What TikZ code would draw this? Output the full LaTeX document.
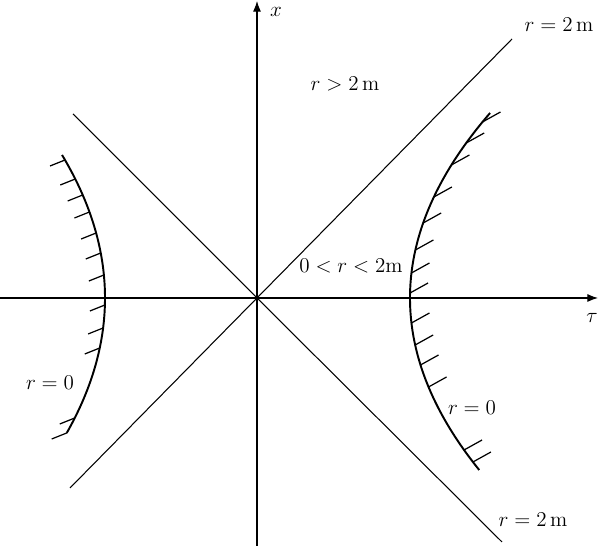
\documentclass[tikz,border=0pt]{standalone}
\usepackage{amsmath}
\usepackage{amssymb}
\usepackage{tikz}
\usetikzlibrary{arrows.meta}

\begin{document}
\begin{tikzpicture}[x=0.02cm,y=-0.02cm,
  axis/.style={line width=0.6pt,-{Latex[length=6pt,width=4.5pt]}},
  horizon/.style={line width=0.6pt},
  sing/.style={line width=1.1pt},
  hatch/.style={line width=0.7pt},
  lbl/.style={font=\fontsize{12.5}{14}\selectfont,inner sep=0pt}]
\useasboundingbox (0,0) rectangle (600,546);
\coordinate (O) at (257,298);
\coordinate (tauL) at (0,298);
\coordinate (tauR) at (598,298);
\coordinate (xB) at (257,546);
\coordinate (xT) at (257,1);
\coordinate (hNE) at (512,39);
\coordinate (hSW) at (70,488);
\coordinate (hNW) at (73,114);
\coordinate (hSE) at (502,542);
% axes
\draw[axis] (tauL) -- (tauR);
\draw[axis] (xB) -- (xT);
% horizons
\draw[horizon] (hSW) -- (O) -- (hNE);
\draw[horizon] (hNW) -- (O) -- (hSE);
% singularities r=0
\draw[sing] plot[variable=\t,domain=113:470,samples=60,smooth]
  ({410+23.4*((\t-298)/100)^2},\t);
\draw[sing] plot[variable=\t,domain=155:433,samples=50,smooth]
  ({105-21*((\t-298)/100)^2},\t);
\foreach \t in {122,143,165,197,223,250,273,293,323,345,365,387,450,462}
  \draw[hatch] ({410+23.4*((\t-298)/100)^2},\t) -- ++(18,-10);
\foreach \t in {160,179,195,212,233,253,275,305,328,348,418,433}
  \draw[hatch] ({105-21*((\t-298)/100)^2},\t) -- ++(-15,6);
% labels
\node[lbl] (xlab) at (276,12) {$x$};
\node[lbl] (taulab) at (592,318) {$\tau$};
\node[lbl] (outer) at (345,84) {$r > 2\,\mathrm{m}$};
\node[lbl] (hupper) at (559,25) {$r = 2\,\mathrm{m}$};
\node[lbl] (hlower) at (533,520) {$r = 2\,\mathrm{m}$};
\node[lbl] (inner) at (351,266) {$0<r<2\mathrm{m}$};
\node[lbl] (singL) at (50,383) {$r = 0$};
\node[lbl] (singR) at (472,408) {$r = 0$};
\end{tikzpicture}
\end{document}
